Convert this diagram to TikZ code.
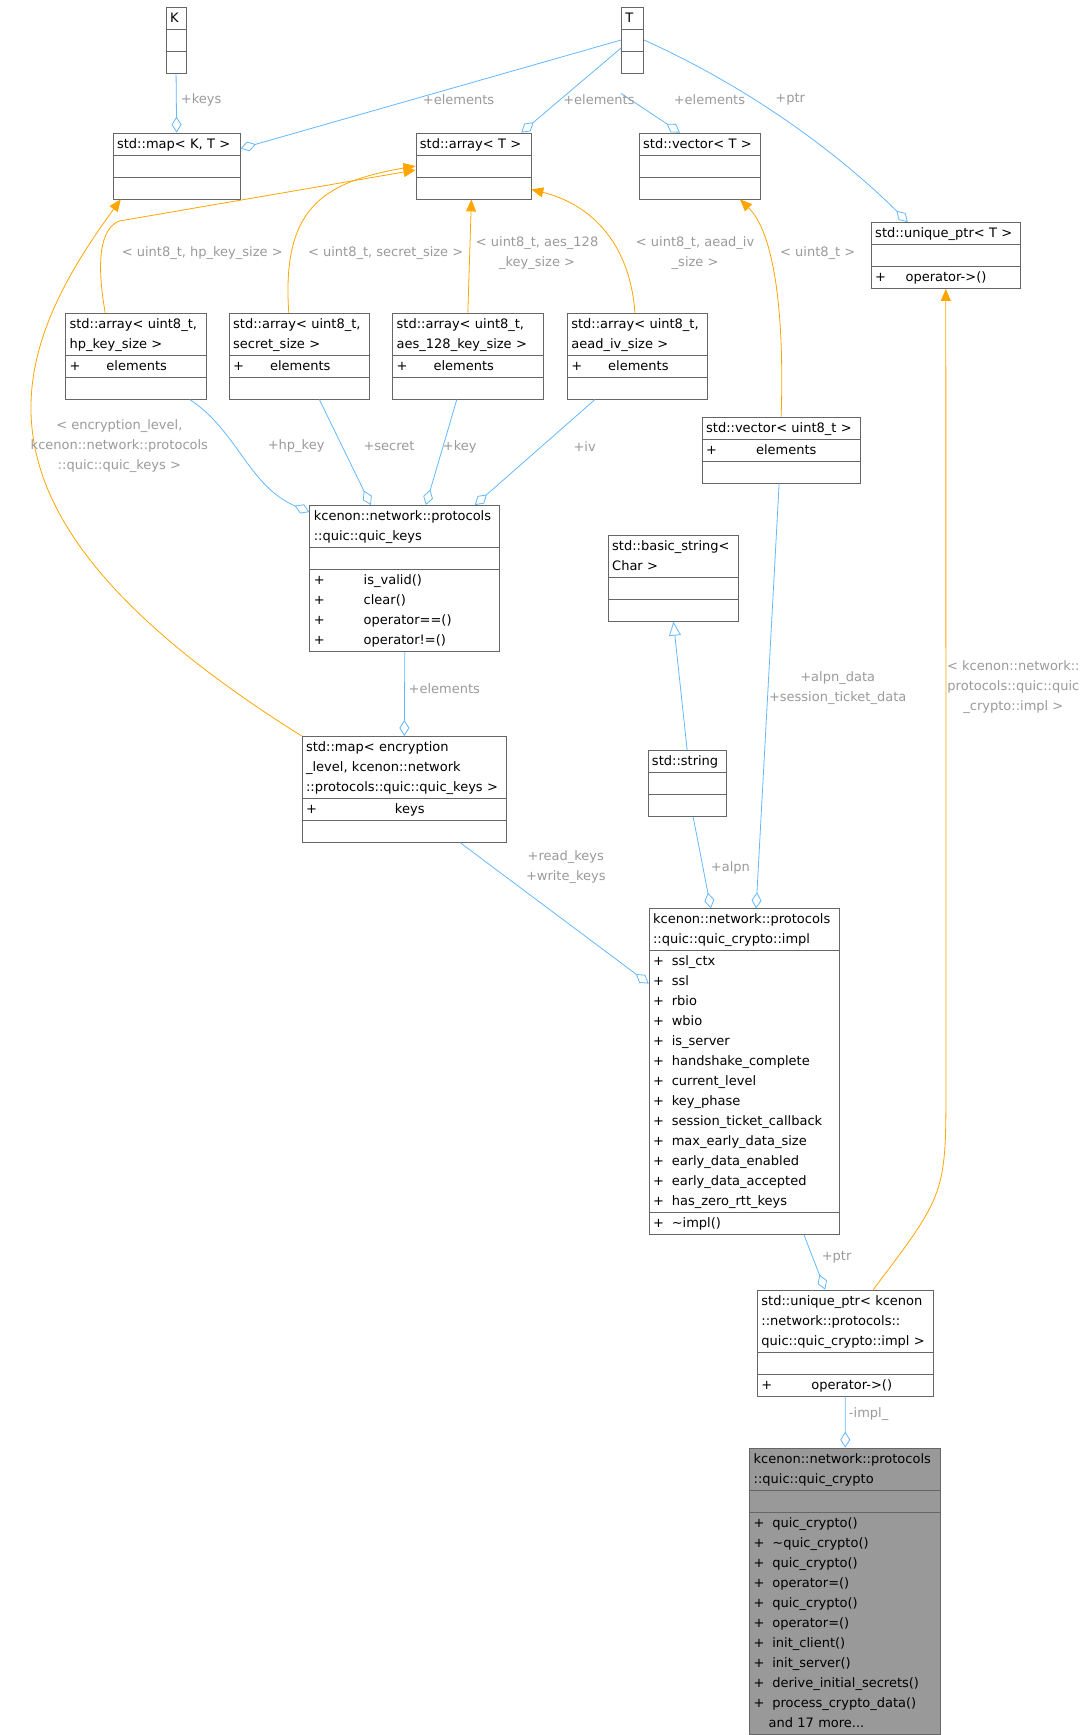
\documentclass[tikz,border=0pt]{standalone}
\usepackage{fontspec}
\setmainfont{DejaVu Sans}
\usetikzlibrary{shapes.multipart,arrows.meta,calc}
\definecolor{edgeblue}{HTML}{63B8FF}
\definecolor{instorange}{HTML}{FFA500}
\definecolor{lblgray}{HTML}{9A9A9A}
\definecolor{boxline}{HTML}{666666}
\definecolor{curfill}{HTML}{999999}
\newcommand\ml[1]{\strut#1\strut}
\newcommand\pub[2]{+\hspace{#1}#2}
\begin{document}
\begin{tikzpicture}[x=0.5525pt,y=-0.5525pt,
  font=\fontsize{6.5}{10}\selectfont,
  cls/.style={rectangle split, rectangle split parts=3, draw=boxline, fill=white,
    anchor=north west, text width=#1, inner xsep=2pt, inner ysep=0.3pt,
    rectangle split part align={center,left,left}},
  agg/.style={draw=edgeblue, {Diamond[open,fill=white,length=8pt,width=5pt]}-},
  inst/.style={draw=instorange, -{Triangle[length=6pt,width=5pt]}},
  inh/.style={draw=edgeblue, -{Triangle[open,fill=white,length=7pt,width=6pt]}},
  lbl/.style={text=lblgray, align=center}]
\useasboundingbox (0,0) rectangle (985,1570);

% templates
\node [cls=5.9pt] (K) at (150,6) {\ml{K}\nodepart{two}\ml{}\nodepart{three}\ml{}};
\node [cls=7.1pt] (T) at (562,6) {\ml{T}\nodepart{two}\ml{}\nodepart{three}\ml{}};
\node [cls=59.5pt] (mapKT) at (102,120) {\ml{std::map< K, T >}\nodepart{two}\ml{}\nodepart{three}\ml{}};
\node [cls=53.5pt] (arrT) at (376,120) {\ml{std::array< T >}\nodepart{two}\ml{}\nodepart{three}\ml{}};
\node [cls=56.8pt] (vecT) at (578,120) {\ml{std::vector< T >}\nodepart{two}\ml{}\nodepart{three}\ml{}};
\node [cls=70.6pt] (uniqT) at (788,201) {\ml{std::unique\_ptr< T >}\nodepart{two}\ml{}\nodepart{three}\ml{\pub{1.5em}{operator->()}}};

% instantiated arrays
\node [cls=66.2pt] (arrHp) at (59,283) {\ml{std::array< uint8\_t,\\hp\_key\_size >}\nodepart{two}\ml{\pub{2em}{elements}}\nodepart{three}\ml{}};
\node [cls=66.2pt] (arrSec) at (207,283) {\ml{std::array< uint8\_t,\\secret\_size >}\nodepart{two}\ml{\pub{2em}{elements}}\nodepart{three}\ml{}};
\node [cls=71.1pt] (arrAes) at (355,283) {\ml{std::array< uint8\_t,\\aes\_128\_key\_size >}\nodepart{two}\ml{\pub{2em}{elements}}\nodepart{three}\ml{}};
\node [cls=66.2pt] (arrIv) at (513,283) {\ml{std::array< uint8\_t,\\aead\_iv\_size >}\nodepart{two}\ml{\pub{2em}{elements}}\nodepart{three}\ml{}};
\node [cls=75pt] (vecU8) at (635,377) {\ml{std::vector< uint8\_t >}\nodepart{two}\ml{\pub{3em}{elements}}\nodepart{three}\ml{}};

\node [cls=91pt] (keys) at (280,457) {\ml{kcenon::network::protocols\\::quic::quic\_keys}\nodepart{two}\ml{}\nodepart{three}\ml{\pub{3em}{is\_valid()}\\\pub{3em}{clear()}\\\pub{3em}{operator==()}\\\pub{3em}{operator!=()}}};
\node [cls=61.2pt] (bStr) at (550,484) {\ml{std::basic\_string<\\Char >}\nodepart{two}\ml{}\nodepart{three}\ml{}};
\node [cls=35.2pt] (stdStr) at (586,679) {\ml{std::string}\nodepart{two}\ml{}\nodepart{three}\ml{}};
\node [cls=98.2pt] (mapEnc) at (273,666) {\ml{std::map< encryption\\\_level, kcenon::network\\::protocols::quic::quic\_keys >}\nodepart{two}\ml{\pub{6em}{keys}}\nodepart{three}\ml{}};

\node [cls=91pt] (impl) at (587,822) {\ml{kcenon::network::protocols\\::quic::quic\_crypto::impl}\nodepart{two}\ml{\pub{0.6em}{ssl\_ctx}\\\pub{0.6em}{ssl}\\\pub{0.6em}{rbio}\\\pub{0.6em}{wbio}\\\pub{0.6em}{is\_server}\\\pub{0.6em}{handshake\_complete}\\\pub{0.6em}{current\_level}\\\pub{0.6em}{key\_phase}\\\pub{0.6em}{session\_ticket\_callback}\\\pub{0.6em}{max\_early\_data\_size}\\\pub{0.6em}{early\_data\_enabled}\\\pub{0.6em}{early\_data\_accepted}\\\pub{0.6em}{has\_zero\_rtt\_keys}}\nodepart{three}\ml{\pub{0.6em}{\textasciitilde impl()}}};
\node [cls=83.8pt] (uImpl) at (685,1167) {\ml{std::unique\_ptr< kcenon\\::network::protocols::\\quic::quic\_crypto::impl >}\nodepart{two}\ml{}\nodepart{three}\ml{\pub{3em}{operator->()}}};
\node [cls=91.6pt, fill=curfill] (crypto) at (678,1310) {\ml{kcenon::network::protocols\\::quic::quic\_crypto}\nodepart{two}\ml{}\nodepart{three}\ml{\pub{0.6em}{quic\_crypto()}\\\pub{0.6em}{\textasciitilde quic\_crypto()}\\\pub{0.6em}{quic\_crypto()}\\\pub{0.6em}{operator=()}\\\pub{0.6em}{quic\_crypto()}\\\pub{0.6em}{operator=()}\\\pub{0.6em}{init\_client()}\\\pub{0.6em}{init\_server()}\\\pub{0.6em}{derive\_initial\_secrets()}\\\pub{0.6em}{process\_crypto\_data()}\\\hspace*{1.15em}and 17 more...}};

% members of templates
\draw [agg] (mapKT.north) -- (K.south);
\draw [agg] ([yshift=-8pt]mapKT.north east) -- (T.west);
\draw [agg] ([xshift=-5pt]arrT.north east) -- ([yshift=-4pt]T.west);
\draw [agg] ([xshift=-10pt]vecT.north) -- ([yshift=-10pt]T.south west);
\draw [agg] ([xshift=-19pt]uniqT.north) .. controls (760,140) and (680,80) .. (T.east);

% template instances
\draw [inst] ([xshift=20pt]arrHp.north west) .. controls (85,225) and (95,205) .. (108,200) -- ([yshift=-2pt]arrT.west);
\draw [inst] ([xshift=30pt]arrSec.north west) .. controls (255,190) and (290,165) .. (arrT.west);
\draw [inst] (arrAes.north) -- ([xshift=-1pt]arrT.south);
\draw [inst] ([xshift=34pt]arrIv.north west) .. controls (570,220) and (535,185) .. ([yshift=5pt]arrT.south east);
\draw [inst] (vecU8.north) .. controls (710,280) and (700,210) .. ([xshift=20pt]vecT.south);
\draw [inst] (mapEnc.north west) .. controls (-40,470) and (0,330) .. ([xshift=4pt]mapKT.south west);
\draw [inst] ([xshift=14pt]uImpl.north) .. controls (856,1080) .. (856,980) -- (uniqT.south);

% members
\draw [agg] ([yshift=-3.5pt]keys.north west) .. controls (225,440) and (215,390) .. ([xshift=27pt]arrHp.south);
\draw [agg] ([xshift=-17pt]keys.north) -- ([xshift=10pt]arrSec.south);
\draw [agg] ([xshift=10.5pt]keys.north) -- ([xshift=-5.5pt]arrAes.south);
\draw [agg] ([xshift=35pt]keys.north) -- ([xshift=14pt]arrIv.south west);
\draw [agg] (mapEnc.north) -- (keys.south);
\draw [agg] ([xshift=6pt]impl.north) -- ([xshift=-1pt]vecU8.south);
\draw [inh] (stdStr.north) -- (bStr.south);
\draw [agg] ([xshift=-16.6pt]impl.north) -- ([xshift=3pt]stdStr.south);
\draw [agg] ([yshift=-37.6pt]impl.north west) -- ([xshift=28pt]mapEnc.south);
\draw [agg] ([xshift=-10pt]uImpl.north) -- ([xshift=30pt]impl.south);
\draw [agg] (crypto.north) -- (uImpl.south);

% labels
\node [lbl] at (182,90) {+keys};
\node [lbl] at (415,90) {+elements};
\node [lbl] at (542,90) {+elements};
\node [lbl] at (642,90) {+elements};
\node [lbl] at (715,90) {+ptr};
\node [lbl] at (183,229) {< uint8\_t, hp\_key\_size >};
\node [lbl] at (349,229) {< uint8\_t, secret\_size >};
\node [lbl] at (486,229) {< uint8\_t, aes\_128\\\_key\_size >};
\node [lbl] at (629,229) {< uint8\_t, aead\_iv\\\_size >};
\node [lbl] at (740,229) {< uint8\_t >};
\node [lbl] at (108,404) {< encryption\_level,\\kcenon::network::protocols\\::quic::quic\_keys >};
\node [lbl] at (268,404) {+hp\_key};
\node [lbl] at (352,404) {+secret};
\node [lbl] at (416,404) {+key};
\node [lbl] at (529,404) {+iv};
\node [lbl] at (402,623) {+elements};
\node [lbl] at (758,623) {+alpn\_data\\+session\_ticket\_data};
\node [lbl] at (917,622) {< kcenon::network::\\protocols::quic::quic\\\_crypto::impl >};
\node [lbl] at (661,785) {+alpn};
\node [lbl] at (512,785) {+read\_keys\\+write\_keys};
\node [lbl] at (757,1138) {+ptr};
\node [lbl] at (786,1280) {-impl\_};
\end{tikzpicture}
\end{document}
